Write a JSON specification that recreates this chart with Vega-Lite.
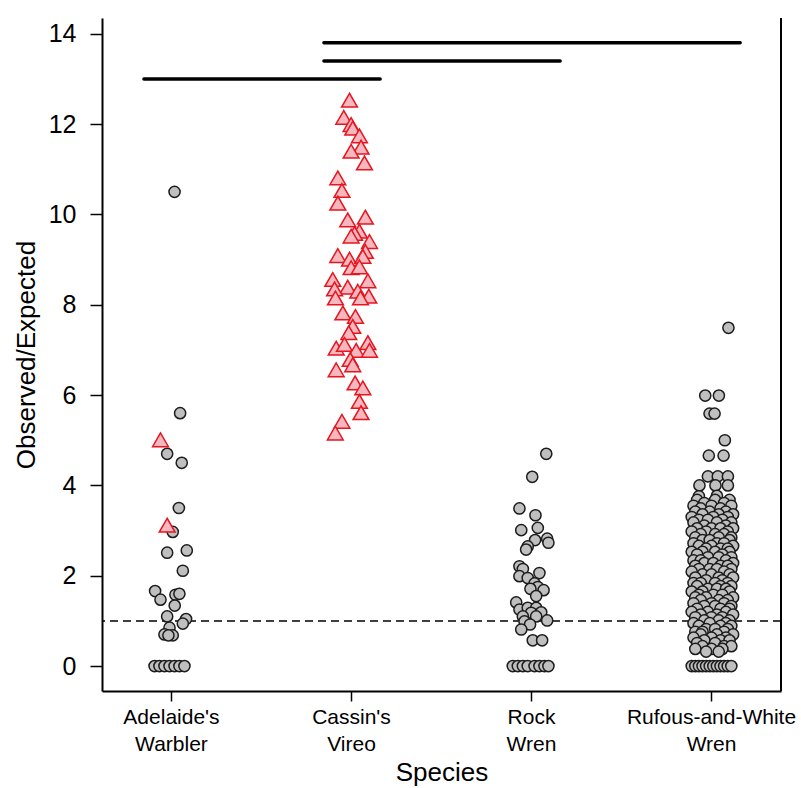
{
  "$schema": "https://vega.github.io/schema/vega-lite/v6.json",
  "width": 679,
  "height": 673,
  "autosize": "none",
  "padding": {"left": 102, "top": 18, "right": 20, "bottom": 97},
  "background": "white",
  "config": {
    "font": "Liberation Sans",
    "view": {"stroke": null},
    "axis": {
      "domain": true,
      "domainColor": "black",
      "domainWidth": 2,
      "grid": false,
      "tickColor": "black",
      "tickWidth": 1.5,
      "tickSize": 10,
      "labelColor": "black",
      "labelFontSize": 21,
      "labelFont": "Liberation Sans",
      "titleFont": "Liberation Sans",
      "titleFontWeight": "normal",
      "titleColor": "black",
      "titleFontSize": 26
    }
  },
  "layer": [
    {
      "data": {"values": [{"y": 1}]},
      "mark": {"type": "rule", "stroke": "black", "strokeWidth": 1.5, "strokeDash": [8, 5]},
      "encoding": {"y": {"field": "y", "type": "quantitative", "scale": {"domain": [-0.552, 14.35], "nice": false, "zero": false},
        "axis": {"title": "Observed/Expected", "values": [0, 2, 4, 6, 8, 10, 12, 14], "tickSize": 12, "labelFontSize": 25, "labelPadding": 14, "titleFontSize": 26, "titlePadding": 9}}}
    },
    {
      "data": {"values": [{"k": 1}]},
      "mark": {"type": "rule", "stroke": "black", "strokeWidth": 2},
      "encoding": {"x": {"value": "width"}}
    },
    {
      "data": {"values": [
        {"s": "Adelaide's Warbler", "j": 0.017, "v": 10.5, "t": "c"},
        {"s": "Adelaide's Warbler", "j": 0.048, "v": 5.6, "t": "c"},
        {"s": "Adelaide's Warbler", "j": -0.024, "v": 4.7, "t": "c"},
        {"s": "Adelaide's Warbler", "j": 0.057, "v": 4.5, "t": "c"},
        {"s": "Adelaide's Warbler", "j": 0.041, "v": 3.5, "t": "c"},
        {"s": "Adelaide's Warbler", "j": 0.007, "v": 2.97, "t": "c"},
        {"s": "Adelaide's Warbler", "j": -0.024, "v": 2.51, "t": "c"},
        {"s": "Adelaide's Warbler", "j": 0.085, "v": 2.56, "t": "c"},
        {"s": "Adelaide's Warbler", "j": 0.063, "v": 2.11, "t": "c"},
        {"s": "Adelaide's Warbler", "j": -0.091, "v": 1.66, "t": "c"},
        {"s": "Adelaide's Warbler", "j": -0.061, "v": 1.47, "t": "c"},
        {"s": "Adelaide's Warbler", "j": 0.022, "v": 1.58, "t": "c"},
        {"s": "Adelaide's Warbler", "j": 0.044, "v": 1.6, "t": "c"},
        {"s": "Adelaide's Warbler", "j": 0.018, "v": 1.34, "t": "c"},
        {"s": "Adelaide's Warbler", "j": -0.024, "v": 1.1, "t": "c"},
        {"s": "Adelaide's Warbler", "j": 0.081, "v": 1.04, "t": "c"},
        {"s": "Adelaide's Warbler", "j": 0.063, "v": 0.94, "t": "c"},
        {"s": "Adelaide's Warbler", "j": -0.011, "v": 0.85, "t": "c"},
        {"s": "Adelaide's Warbler", "j": -0.039, "v": 0.7, "t": "c"},
        {"s": "Adelaide's Warbler", "j": 0.007, "v": 0.68, "t": "c"},
        {"s": "Adelaide's Warbler", "j": -0.017, "v": 0.68, "t": "c"},
        {"s": "Adelaide's Warbler", "j": -0.094, "v": 0, "t": "c"},
        {"s": "Adelaide's Warbler", "j": -0.067, "v": 0, "t": "c"},
        {"s": "Adelaide's Warbler", "j": -0.039, "v": 0, "t": "c"},
        {"s": "Adelaide's Warbler", "j": -0.011, "v": 0, "t": "c"},
        {"s": "Adelaide's Warbler", "j": 0.017, "v": 0, "t": "c"},
        {"s": "Adelaide's Warbler", "j": 0.044, "v": 0, "t": "c"},
        {"s": "Adelaide's Warbler", "j": 0.072, "v": 0, "t": "c"},
        {"s": "Adelaide's Warbler", "j": -0.061, "v": 5.01, "t": "t"},
        {"s": "Adelaide's Warbler", "j": -0.024, "v": 3.12, "t": "t"},

        {"s": "Cassin's Vireo", "j": -0.011, "v": 12.53, "t": "t"},
        {"s": "Cassin's Vireo", "j": -0.043, "v": 12.15, "t": "t"},
        {"s": "Cassin's Vireo", "j": -0.002, "v": 11.99, "t": "t"},
        {"s": "Cassin's Vireo", "j": 0.007, "v": 11.91, "t": "t"},
        {"s": "Cassin's Vireo", "j": 0.044, "v": 11.74, "t": "t"},
        {"s": "Cassin's Vireo", "j": 0.053, "v": 11.49, "t": "t"},
        {"s": "Cassin's Vireo", "j": -0.002, "v": 11.4, "t": "t"},
        {"s": "Cassin's Vireo", "j": 0.072, "v": 11.14, "t": "t"},
        {"s": "Cassin's Vireo", "j": -0.076, "v": 10.81, "t": "t"},
        {"s": "Cassin's Vireo", "j": -0.053, "v": 10.53, "t": "t"},
        {"s": "Cassin's Vireo", "j": -0.076, "v": 10.25, "t": "t"},
        {"s": "Cassin's Vireo", "j": -0.021, "v": 9.88, "t": "t"},
        {"s": "Cassin's Vireo", "j": 0.077, "v": 9.94, "t": "t"},
        {"s": "Cassin's Vireo", "j": 0.044, "v": 9.63, "t": "t"},
        {"s": "Cassin's Vireo", "j": 0.017, "v": 9.58, "t": "t"},
        {"s": "Cassin's Vireo", "j": -0.002, "v": 9.52, "t": "t"},
        {"s": "Cassin's Vireo", "j": 0.1, "v": 9.4, "t": "t"},
        {"s": "Cassin's Vireo", "j": 0.077, "v": 9.18, "t": "t"},
        {"s": "Cassin's Vireo", "j": -0.076, "v": 9.09, "t": "t"},
        {"s": "Cassin's Vireo", "j": -0.011, "v": 9.01, "t": "t"},
        {"s": "Cassin's Vireo", "j": 0.063, "v": 9.07, "t": "t"},
        {"s": "Cassin's Vireo", "j": -0.002, "v": 8.82, "t": "t"},
        {"s": "Cassin's Vireo", "j": 0.044, "v": 8.84, "t": "t"},
        {"s": "Cassin's Vireo", "j": -0.104, "v": 8.56, "t": "t"},
        {"s": "Cassin's Vireo", "j": 0.091, "v": 8.53, "t": "t"},
        {"s": "Cassin's Vireo", "j": -0.021, "v": 8.39, "t": "t"},
        {"s": "Cassin's Vireo", "j": -0.094, "v": 8.35, "t": "t"},
        {"s": "Cassin's Vireo", "j": 0.035, "v": 8.3, "t": "t"},
        {"s": "Cassin's Vireo", "j": 0.096, "v": 8.19, "t": "t"},
        {"s": "Cassin's Vireo", "j": 0.05, "v": 8.15, "t": "t"},
        {"s": "Cassin's Vireo", "j": -0.089, "v": 8.15, "t": "t"},
        {"s": "Cassin's Vireo", "j": -0.048, "v": 7.82, "t": "t"},
        {"s": "Cassin's Vireo", "j": 0.022, "v": 7.74, "t": "t"},
        {"s": "Cassin's Vireo", "j": 0.007, "v": 7.52, "t": "t"},
        {"s": "Cassin's Vireo", "j": -0.015, "v": 7.38, "t": "t"},
        {"s": "Cassin's Vireo", "j": 0.091, "v": 7.16, "t": "t"},
        {"s": "Cassin's Vireo", "j": -0.085, "v": 7.04, "t": "t"},
        {"s": "Cassin's Vireo", "j": -0.039, "v": 7.12, "t": "t"},
        {"s": "Cassin's Vireo", "j": 0.026, "v": 6.99, "t": "t"},
        {"s": "Cassin's Vireo", "j": 0.1, "v": 6.99, "t": "t"},
        {"s": "Cassin's Vireo", "j": -0.007, "v": 6.79, "t": "t"},
        {"s": "Cassin's Vireo", "j": 0.007, "v": 6.67, "t": "t"},
        {"s": "Cassin's Vireo", "j": -0.085, "v": 6.56, "t": "t"},
        {"s": "Cassin's Vireo", "j": 0.02, "v": 6.27, "t": "t"},
        {"s": "Cassin's Vireo", "j": 0.063, "v": 6.16, "t": "t"},
        {"s": "Cassin's Vireo", "j": 0.044, "v": 5.86, "t": "t"},
        {"s": "Cassin's Vireo", "j": 0.053, "v": 5.61, "t": "t"},
        {"s": "Cassin's Vireo", "j": -0.053, "v": 5.42, "t": "t"},
        {"s": "Cassin's Vireo", "j": -0.09, "v": 5.16, "t": "t"},

        {"s": "Rock Wren", "j": 0.082, "v": 4.7, "t": "c"},
        {"s": "Rock Wren", "j": 0.004, "v": 4.19, "t": "c"},
        {"s": "Rock Wren", "j": -0.067, "v": 3.49, "t": "c"},
        {"s": "Rock Wren", "j": 0.022, "v": 3.34, "t": "c"},
        {"s": "Rock Wren", "j": 0.035, "v": 3.06, "t": "c"},
        {"s": "Rock Wren", "j": -0.057, "v": 3.01, "t": "c"},
        {"s": "Rock Wren", "j": 0.087, "v": 2.82, "t": "c"},
        {"s": "Rock Wren", "j": 0.02, "v": 2.79, "t": "c"},
        {"s": "Rock Wren", "j": 0.094, "v": 2.73, "t": "c"},
        {"s": "Rock Wren", "j": -0.021, "v": 2.65, "t": "c"},
        {"s": "Rock Wren", "j": -0.03, "v": 2.58, "t": "c"},
        {"s": "Rock Wren", "j": -0.067, "v": 2.21, "t": "c"},
        {"s": "Rock Wren", "j": -0.048, "v": 2.15, "t": "c"},
        {"s": "Rock Wren", "j": -0.067, "v": 1.99, "t": "c"},
        {"s": "Rock Wren", "j": 0.044, "v": 2.06, "t": "c"},
        {"s": "Rock Wren", "j": -0.021, "v": 1.95, "t": "c"},
        {"s": "Rock Wren", "j": 0.017, "v": 1.83, "t": "c"},
        {"s": "Rock Wren", "j": 0.035, "v": 1.75, "t": "c"},
        {"s": "Rock Wren", "j": 0.067, "v": 1.68, "t": "c"},
        {"s": "Rock Wren", "j": -0.006, "v": 1.71, "t": "c"},
        {"s": "Rock Wren", "j": 0.026, "v": 1.55, "t": "c"},
        {"s": "Rock Wren", "j": -0.085, "v": 1.41, "t": "c"},
        {"s": "Rock Wren", "j": -0.067, "v": 1.25, "t": "c"},
        {"s": "Rock Wren", "j": -0.021, "v": 1.29, "t": "c"},
        {"s": "Rock Wren", "j": 0.026, "v": 1.29, "t": "c"},
        {"s": "Rock Wren", "j": -0.002, "v": 1.18, "t": "c"},
        {"s": "Rock Wren", "j": 0.054, "v": 1.19, "t": "c"},
        {"s": "Rock Wren", "j": -0.048, "v": 1.1, "t": "c"},
        {"s": "Rock Wren", "j": 0.026, "v": 1.1, "t": "c"},
        {"s": "Rock Wren", "j": 0.087, "v": 1.01, "t": "c"},
        {"s": "Rock Wren", "j": -0.039, "v": 0.99, "t": "c"},
        {"s": "Rock Wren", "j": -0.008, "v": 0.92, "t": "c"},
        {"s": "Rock Wren", "j": -0.057, "v": 0.81, "t": "c"},
        {"s": "Rock Wren", "j": 0.007, "v": 0.57, "t": "c"},
        {"s": "Rock Wren", "j": 0.059, "v": 0.57, "t": "c"},
        {"s": "Rock Wren", "j": -0.104, "v": 0, "t": "c"},
        {"s": "Rock Wren", "j": -0.076, "v": 0, "t": "c"},
        {"s": "Rock Wren", "j": -0.048, "v": 0, "t": "c"},
        {"s": "Rock Wren", "j": -0.021, "v": 0, "t": "c"},
        {"s": "Rock Wren", "j": 0.017, "v": 0, "t": "c"},
        {"s": "Rock Wren", "j": 0.044, "v": 0, "t": "c"},
        {"s": "Rock Wren", "j": 0.072, "v": 0, "t": "c"},
        {"s": "Rock Wren", "j": 0.094, "v": 0, "t": "c"},

        {"s": "Rufous-and-White Wren", "j": 0.094, "v": 7.49, "t": "c"},
        {"s": "Rufous-and-White Wren", "j": -0.035, "v": 5.99, "t": "c"},
        {"s": "Rufous-and-White Wren", "j": 0.041, "v": 5.99, "t": "c"},
        {"s": "Rufous-and-White Wren", "j": -0.011, "v": 5.59, "t": "c"},
        {"s": "Rufous-and-White Wren", "j": 0.017, "v": 5.59, "t": "c"},
        {"s": "Rufous-and-White Wren", "j": 0.074, "v": 5.0, "t": "c"},
        {"s": "Rufous-and-White Wren", "j": -0.015, "v": 4.66, "t": "c"},
        {"s": "Rufous-and-White Wren", "j": 0.067, "v": 4.66, "t": "c"},
        {"s": "Rufous-and-White Wren", "j": -0.02, "v": 4.2, "t": "c"},
        {"s": "Rufous-and-White Wren", "j": 0.035, "v": 4.2, "t": "c"},
        {"s": "Rufous-and-White Wren", "j": 0.091, "v": 4.2, "t": "c"},
        {"s": "Rufous-and-White Wren", "j": -0.067, "v": 4.0, "t": "c"},
        {"s": "Rufous-and-White Wren", "j": 0.022, "v": 4.0, "t": "c"},
        {"s": "Rufous-and-White Wren", "j": 0.091, "v": 4.0, "t": "c"},
        {"s": "Rufous-and-White Wren", "j": -0.07, "v": 3.76, "t": "c"},
        {"s": "Rufous-and-White Wren", "j": 0.03, "v": 3.77, "t": "c"},
        {"s": "Rufous-and-White Wren", "j": -0.08, "v": 3.68, "t": "c"},
        {"s": "Rufous-and-White Wren", "j": 0.02, "v": 3.68, "t": "c"},
        {"s": "Rufous-and-White Wren", "j": 0.1, "v": 3.68, "t": "c"},
        {"s": "Rufous-and-White Wren", "j": -0.04, "v": 3.61, "t": "c"},
        {"s": "Rufous-and-White Wren", "j": 0.07, "v": 3.61, "t": "c"},
        {"s": "Rufous-and-White Wren", "j": -0.1, "v": 3.55, "t": "c"},
        {"s": "Rufous-and-White Wren", "j": 0.0, "v": 3.55, "t": "c"},
        {"s": "Rufous-and-White Wren", "j": 0.11, "v": 3.55, "t": "c"},
        {"s": "Rufous-and-White Wren", "j": -0.06, "v": 3.49, "t": "c"},
        {"s": "Rufous-and-White Wren", "j": 0.05, "v": 3.49, "t": "c"},
        {"s": "Rufous-and-White Wren", "j": -0.09, "v": 3.42, "t": "c"},
        {"s": "Rufous-and-White Wren", "j": -0.01, "v": 3.42, "t": "c"},
        {"s": "Rufous-and-White Wren", "j": 0.08, "v": 3.42, "t": "c"},
        {"s": "Rufous-and-White Wren", "j": -0.05, "v": 3.36, "t": "c"},
        {"s": "Rufous-and-White Wren", "j": 0.04, "v": 3.36, "t": "c"},
        {"s": "Rufous-and-White Wren", "j": 0.12, "v": 3.36, "t": "c"},
        {"s": "Rufous-and-White Wren", "j": -0.11, "v": 3.3, "t": "c"},
        {"s": "Rufous-and-White Wren", "j": 0.01, "v": 3.3, "t": "c"},
        {"s": "Rufous-and-White Wren", "j": 0.09, "v": 3.3, "t": "c"},
        {"s": "Rufous-and-White Wren", "j": -0.07, "v": 3.24, "t": "c"},
        {"s": "Rufous-and-White Wren", "j": -0.02, "v": 3.24, "t": "c"},
        {"s": "Rufous-and-White Wren", "j": 0.06, "v": 3.24, "t": "c"},
        {"s": "Rufous-and-White Wren", "j": -0.1, "v": 3.18, "t": "c"},
        {"s": "Rufous-and-White Wren", "j": 0.03, "v": 3.18, "t": "c"},
        {"s": "Rufous-and-White Wren", "j": 0.11, "v": 3.18, "t": "c"},
        {"s": "Rufous-and-White Wren", "j": -0.04, "v": 3.11, "t": "c"},
        {"s": "Rufous-and-White Wren", "j": 0.08, "v": 3.11, "t": "c"},
        {"s": "Rufous-and-White Wren", "j": -0.08, "v": 3.05, "t": "c"},
        {"s": "Rufous-and-White Wren", "j": 0.0, "v": 3.05, "t": "c"},
        {"s": "Rufous-and-White Wren", "j": 0.05, "v": 3.05, "t": "c"},
        {"s": "Rufous-and-White Wren", "j": 0.12, "v": 3.05, "t": "c"},
        {"s": "Rufous-and-White Wren", "j": -0.11, "v": 2.98, "t": "c"},
        {"s": "Rufous-and-White Wren", "j": -0.03, "v": 2.98, "t": "c"},
        {"s": "Rufous-and-White Wren", "j": 0.09, "v": 2.98, "t": "c"},
        {"s": "Rufous-and-White Wren", "j": -0.06, "v": 2.92, "t": "c"},
        {"s": "Rufous-and-White Wren", "j": 0.02, "v": 2.92, "t": "c"},
        {"s": "Rufous-and-White Wren", "j": 0.07, "v": 2.92, "t": "c"},
        {"s": "Rufous-and-White Wren", "j": -0.09, "v": 2.85, "t": "c"},
        {"s": "Rufous-and-White Wren", "j": 0.04, "v": 2.85, "t": "c"},
        {"s": "Rufous-and-White Wren", "j": 0.11, "v": 2.85, "t": "c"},
        {"s": "Rufous-and-White Wren", "j": -0.05, "v": 2.79, "t": "c"},
        {"s": "Rufous-and-White Wren", "j": -0.01, "v": 2.79, "t": "c"},
        {"s": "Rufous-and-White Wren", "j": 0.1, "v": 2.79, "t": "c"},
        {"s": "Rufous-and-White Wren", "j": -0.1, "v": 2.72, "t": "c"},
        {"s": "Rufous-and-White Wren", "j": 0.03, "v": 2.72, "t": "c"},
        {"s": "Rufous-and-White Wren", "j": 0.07, "v": 2.72, "t": "c"},
        {"s": "Rufous-and-White Wren", "j": -0.07, "v": 2.66, "t": "c"},
        {"s": "Rufous-and-White Wren", "j": 0.0, "v": 2.66, "t": "c"},
        {"s": "Rufous-and-White Wren", "j": 0.12, "v": 2.66, "t": "c"},
        {"s": "Rufous-and-White Wren", "j": -0.03, "v": 2.6, "t": "c"},
        {"s": "Rufous-and-White Wren", "j": 0.05, "v": 2.6, "t": "c"},
        {"s": "Rufous-and-White Wren", "j": 0.09, "v": 2.6, "t": "c"},
        {"s": "Rufous-and-White Wren", "j": -0.11, "v": 2.53, "t": "c"},
        {"s": "Rufous-and-White Wren", "j": -0.05, "v": 2.53, "t": "c"},
        {"s": "Rufous-and-White Wren", "j": 0.02, "v": 2.53, "t": "c"},
        {"s": "Rufous-and-White Wren", "j": 0.1, "v": 2.53, "t": "c"},
        {"s": "Rufous-and-White Wren", "j": -0.08, "v": 2.47, "t": "c"},
        {"s": "Rufous-and-White Wren", "j": 0.06, "v": 2.47, "t": "c"},
        {"s": "Rufous-and-White Wren", "j": -0.02, "v": 2.41, "t": "c"},
        {"s": "Rufous-and-White Wren", "j": 0.04, "v": 2.41, "t": "c"},
        {"s": "Rufous-and-White Wren", "j": 0.11, "v": 2.41, "t": "c"},
        {"s": "Rufous-and-White Wren", "j": -0.1, "v": 2.34, "t": "c"},
        {"s": "Rufous-and-White Wren", "j": -0.06, "v": 2.34, "t": "c"},
        {"s": "Rufous-and-White Wren", "j": 0.08, "v": 2.34, "t": "c"},
        {"s": "Rufous-and-White Wren", "j": -0.04, "v": 2.28, "t": "c"},
        {"s": "Rufous-and-White Wren", "j": 0.01, "v": 2.28, "t": "c"},
        {"s": "Rufous-and-White Wren", "j": 0.12, "v": 2.28, "t": "c"},
        {"s": "Rufous-and-White Wren", "j": -0.09, "v": 2.22, "t": "c"},
        {"s": "Rufous-and-White Wren", "j": 0.05, "v": 2.22, "t": "c"},
        {"s": "Rufous-and-White Wren", "j": 0.09, "v": 2.22, "t": "c"},
        {"s": "Rufous-and-White Wren", "j": -0.07, "v": 2.15, "t": "c"},
        {"s": "Rufous-and-White Wren", "j": -0.01, "v": 2.15, "t": "c"},
        {"s": "Rufous-and-White Wren", "j": 0.03, "v": 2.15, "t": "c"},
        {"s": "Rufous-and-White Wren", "j": 0.11, "v": 2.15, "t": "c"},
        {"s": "Rufous-and-White Wren", "j": -0.11, "v": 2.09, "t": "c"},
        {"s": "Rufous-and-White Wren", "j": 0.07, "v": 2.09, "t": "c"},
        {"s": "Rufous-and-White Wren", "j": -0.05, "v": 2.03, "t": "c"},
        {"s": "Rufous-and-White Wren", "j": 0.0, "v": 2.03, "t": "c"},
        {"s": "Rufous-and-White Wren", "j": 0.1, "v": 2.03, "t": "c"},
        {"s": "Rufous-and-White Wren", "j": -0.09, "v": 1.96, "t": "c"},
        {"s": "Rufous-and-White Wren", "j": 0.04, "v": 1.96, "t": "c"},
        {"s": "Rufous-and-White Wren", "j": 0.12, "v": 1.96, "t": "c"},
        {"s": "Rufous-and-White Wren", "j": -0.03, "v": 1.9, "t": "c"},
        {"s": "Rufous-and-White Wren", "j": 0.06, "v": 1.9, "t": "c"},
        {"s": "Rufous-and-White Wren", "j": -0.1, "v": 1.84, "t": "c"},
        {"s": "Rufous-and-White Wren", "j": -0.06, "v": 1.84, "t": "c"},
        {"s": "Rufous-and-White Wren", "j": 0.02, "v": 1.84, "t": "c"},
        {"s": "Rufous-and-White Wren", "j": 0.09, "v": 1.84, "t": "c"},
        {"s": "Rufous-and-White Wren", "j": -0.08, "v": 1.77, "t": "c"},
        {"s": "Rufous-and-White Wren", "j": 0.05, "v": 1.77, "t": "c"},
        {"s": "Rufous-and-White Wren", "j": 0.11, "v": 1.77, "t": "c"},
        {"s": "Rufous-and-White Wren", "j": -0.02, "v": 1.71, "t": "c"},
        {"s": "Rufous-and-White Wren", "j": 0.03, "v": 1.71, "t": "c"},
        {"s": "Rufous-and-White Wren", "j": 0.08, "v": 1.71, "t": "c"},
        {"s": "Rufous-and-White Wren", "j": -0.11, "v": 1.65, "t": "c"},
        {"s": "Rufous-and-White Wren", "j": -0.05, "v": 1.65, "t": "c"},
        {"s": "Rufous-and-White Wren", "j": 0.1, "v": 1.65, "t": "c"},
        {"s": "Rufous-and-White Wren", "j": -0.07, "v": 1.58, "t": "c"},
        {"s": "Rufous-and-White Wren", "j": 0.01, "v": 1.58, "t": "c"},
        {"s": "Rufous-and-White Wren", "j": 0.06, "v": 1.58, "t": "c"},
        {"s": "Rufous-and-White Wren", "j": -0.09, "v": 1.52, "t": "c"},
        {"s": "Rufous-and-White Wren", "j": -0.03, "v": 1.52, "t": "c"},
        {"s": "Rufous-and-White Wren", "j": 0.12, "v": 1.52, "t": "c"},
        {"s": "Rufous-and-White Wren", "j": -0.06, "v": 1.46, "t": "c"},
        {"s": "Rufous-and-White Wren", "j": 0.04, "v": 1.46, "t": "c"},
        {"s": "Rufous-and-White Wren", "j": 0.09, "v": 1.46, "t": "c"},
        {"s": "Rufous-and-White Wren", "j": -0.1, "v": 1.39, "t": "c"},
        {"s": "Rufous-and-White Wren", "j": 0.0, "v": 1.39, "t": "c"},
        {"s": "Rufous-and-White Wren", "j": 0.07, "v": 1.39, "t": "c"},
        {"s": "Rufous-and-White Wren", "j": -0.04, "v": 1.33, "t": "c"},
        {"s": "Rufous-and-White Wren", "j": 0.02, "v": 1.33, "t": "c"},
        {"s": "Rufous-and-White Wren", "j": 0.11, "v": 1.33, "t": "c"},
        {"s": "Rufous-and-White Wren", "j": -0.08, "v": 1.27, "t": "c"},
        {"s": "Rufous-and-White Wren", "j": 0.05, "v": 1.27, "t": "c"},
        {"s": "Rufous-and-White Wren", "j": 0.1, "v": 1.27, "t": "c"},
        {"s": "Rufous-and-White Wren", "j": -0.11, "v": 1.2, "t": "c"},
        {"s": "Rufous-and-White Wren", "j": -0.02, "v": 1.2, "t": "c"},
        {"s": "Rufous-and-White Wren", "j": 0.08, "v": 1.2, "t": "c"},
        {"s": "Rufous-and-White Wren", "j": -0.06, "v": 1.14, "t": "c"},
        {"s": "Rufous-and-White Wren", "j": 0.03, "v": 1.14, "t": "c"},
        {"s": "Rufous-and-White Wren", "j": 0.12, "v": 1.14, "t": "c"},
        {"s": "Rufous-and-White Wren", "j": -0.09, "v": 1.08, "t": "c"},
        {"s": "Rufous-and-White Wren", "j": 0.0, "v": 1.08, "t": "c"},
        {"s": "Rufous-and-White Wren", "j": 0.06, "v": 1.08, "t": "c"},
        {"s": "Rufous-and-White Wren", "j": -0.04, "v": 1.01, "t": "c"},
        {"s": "Rufous-and-White Wren", "j": 0.04, "v": 1.01, "t": "c"},
        {"s": "Rufous-and-White Wren", "j": 0.1, "v": 1.01, "t": "c"},
        {"s": "Rufous-and-White Wren", "j": -0.1, "v": 0.95, "t": "c"},
        {"s": "Rufous-and-White Wren", "j": -0.01, "v": 0.95, "t": "c"},
        {"s": "Rufous-and-White Wren", "j": 0.08, "v": 0.95, "t": "c"},
        {"s": "Rufous-and-White Wren", "j": -0.07, "v": 0.89, "t": "c"},
        {"s": "Rufous-and-White Wren", "j": 0.05, "v": 0.89, "t": "c"},
        {"s": "Rufous-and-White Wren", "j": 0.11, "v": 0.89, "t": "c"},
        {"s": "Rufous-and-White Wren", "j": -0.03, "v": 0.82, "t": "c"},
        {"s": "Rufous-and-White Wren", "j": 0.02, "v": 0.82, "t": "c"},
        {"s": "Rufous-and-White Wren", "j": 0.09, "v": 0.82, "t": "c"},
        {"s": "Rufous-and-White Wren", "j": -0.09, "v": 0.76, "t": "c"},
        {"s": "Rufous-and-White Wren", "j": -0.05, "v": 0.76, "t": "c"},
        {"s": "Rufous-and-White Wren", "j": 0.07, "v": 0.76, "t": "c"},
        {"s": "Rufous-and-White Wren", "j": -0.06, "v": 0.7, "t": "c"},
        {"s": "Rufous-and-White Wren", "j": 0.03, "v": 0.7, "t": "c"},
        {"s": "Rufous-and-White Wren", "j": 0.12, "v": 0.7, "t": "c"},
        {"s": "Rufous-and-White Wren", "j": -0.1, "v": 0.63, "t": "c"},
        {"s": "Rufous-and-White Wren", "j": 0.0, "v": 0.63, "t": "c"},
        {"s": "Rufous-and-White Wren", "j": 0.08, "v": 0.63, "t": "c"},
        {"s": "Rufous-and-White Wren", "j": -0.04, "v": 0.57, "t": "c"},
        {"s": "Rufous-and-White Wren", "j": 0.05, "v": 0.57, "t": "c"},
        {"s": "Rufous-and-White Wren", "j": 0.1, "v": 0.57, "t": "c"},
        {"s": "Rufous-and-White Wren", "j": -0.08, "v": 0.51, "t": "c"},
        {"s": "Rufous-and-White Wren", "j": 0.02, "v": 0.51, "t": "c"},
        {"s": "Rufous-and-White Wren", "j": -0.05, "v": 0.44, "t": "c"},
        {"s": "Rufous-and-White Wren", "j": 0.07, "v": 0.44, "t": "c"},
        {"s": "Rufous-and-White Wren", "j": 0.11, "v": 0.44, "t": "c"},
        {"s": "Rufous-and-White Wren", "j": -0.09, "v": 0.38, "t": "c"},
        {"s": "Rufous-and-White Wren", "j": 0.0, "v": 0.38, "t": "c"},
        {"s": "Rufous-and-White Wren", "j": 0.06, "v": 0.38, "t": "c"},
        {"s": "Rufous-and-White Wren", "j": -0.03, "v": 0.32, "t": "c"},
        {"s": "Rufous-and-White Wren", "j": 0.04, "v": 0.32, "t": "c"},
        {"s": "Rufous-and-White Wren", "j": -0.11, "v": 0, "t": "c"},
        {"s": "Rufous-and-White Wren", "j": -0.09, "v": 0, "t": "c"},
        {"s": "Rufous-and-White Wren", "j": -0.07, "v": 0, "t": "c"},
        {"s": "Rufous-and-White Wren", "j": -0.05, "v": 0, "t": "c"},
        {"s": "Rufous-and-White Wren", "j": -0.03, "v": 0, "t": "c"},
        {"s": "Rufous-and-White Wren", "j": -0.01, "v": 0, "t": "c"},
        {"s": "Rufous-and-White Wren", "j": 0.01, "v": 0, "t": "c"},
        {"s": "Rufous-and-White Wren", "j": 0.03, "v": 0, "t": "c"},
        {"s": "Rufous-and-White Wren", "j": 0.05, "v": 0, "t": "c"},
        {"s": "Rufous-and-White Wren", "j": 0.07, "v": 0, "t": "c"},
        {"s": "Rufous-and-White Wren", "j": 0.09, "v": 0, "t": "c"},
        {"s": "Rufous-and-White Wren", "j": 0.11, "v": 0, "t": "c"}
      ]},
      "mark": {"type": "point", "filled": true, "opacity": 1, "strokeWidth": 1.5},
      "encoding": {
        "x": {
          "field": "s", "type": "nominal",
          "sort": ["Adelaide's Warbler", "Cassin's Vireo", "Rock Wren", "Rufous-and-White Wren"],
          "scale": {"paddingInner": 0.228, "paddingOuter": 0},
          "axis": {
            "title": "Species",
            "labelAngle": 0,
            "labelAlign": "center",
            "labelLineHeight": 27,
            "labelPadding": 5,
            "titlePadding": 5,
            "labelExpr": "datum.label == 'Rufous-and-White Wren' ? ['Rufous-and-White', 'Wren'] : split(datum.label, ' ')"
          }
        },
        "xOffset": {"field": "j", "type": "quantitative", "scale": {"domain": [-0.386, 0.386], "nice": false, "zero": false}},
        "y": {"field": "v", "type": "quantitative"},
        "shape": {"field": "t", "type": "nominal", "scale": {"domain": ["c", "t"], "range": ["circle", "triangle-up"]}, "legend": null},
        "fill": {"field": "t", "type": "nominal", "scale": {"domain": ["c", "t"], "range": ["#bfbfbf", "#f7b7bf"]}, "legend": null},
        "stroke": {"field": "t", "type": "nominal", "scale": {"domain": ["c", "t"], "range": ["#1c1c1c", "#e8141e"]}, "legend": null},
        "size": {"field": "t", "type": "nominal", "scale": {"domain": ["c", "t"], "range": [125, 250]}, "legend": null}
      }
    },
    {
      "data": {"values": [
        {"y": 13.0, "a": 0.844, "b": 2.156},
        {"y": 13.4, "a": 1.844, "b": 3.156},
        {"y": 13.8, "a": 1.844, "b": 4.156}
      ]},
      "mark": {"type": "rule", "stroke": "black", "strokeWidth": 3.5, "strokeCap": "round"},
      "encoding": {
        "x": {"field": "a", "type": "quantitative", "scale": {"domain": [0.611, 4.383], "nice": false, "zero": false}, "axis": null},
        "x2": {"field": "b"},
        "y": {"field": "y", "type": "quantitative"}
      }
    }
  ],
  "resolve": {"scale": {"x": "independent"}}
}
